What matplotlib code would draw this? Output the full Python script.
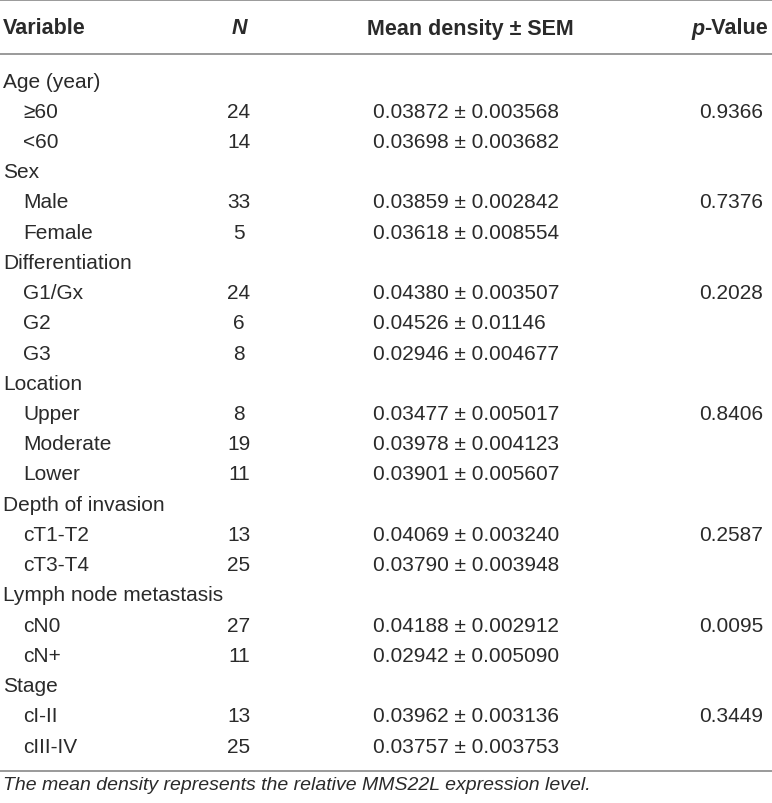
import matplotlib
matplotlib.use("Agg")
import matplotlib.pyplot as plt

# Table content
headers = ["Variable", "N", "Mean density ± SEM", "p", "-Value"]
groups = ["Age (year)", "Sex", "Differentiation", "Location",
          "Depth of invasion", "Lymph node metastasis", "Stage"]
levels = [["≥60", "<60"],
          ["Male", "Female"],
          ["G1/Gx", "G2", "G3"],
          ["Upper", "Moderate", "Lower"],
          ["cT1-T2", "cT3-T4"],
          ["cN0", "cN+"],
          ["cI-II", "cIII-IV"]]
counts = [[24, 14], [33, 5], [24, 6, 8], [8, 19, 11], [13, 25], [27, 11], [13, 25]]
means = [["0.03872", "0.03698"], ["0.03859", "0.03618"],
         ["0.04380", "0.04526", "0.02946"], ["0.03477", "0.03978", "0.03901"],
         ["0.04069", "0.03790"], ["0.04188", "0.02942"], ["0.03962", "0.03757"]]
sems = [["0.003568", "0.003682"], ["0.002842", "0.008554"],
        ["0.003507", "0.01146", "0.004677"], ["0.005017", "0.004123", "0.005607"],
        ["0.003240", "0.003948"], ["0.002912", "0.005090"], ["0.003136", "0.003753"]]
pvalues = ["0.9366", "0.7376", "0.2028", "0.8406", "0.2587", "0.0095", "0.3449"]
footnote = "The mean density represents the relative MMS22L expression level."

W, H = 772, 804
plt.rcParams["font.family"] = ["Liberation Sans", "DejaVu Sans"]
fig = plt.figure(figsize=(W / 100, H / 100), dpi=100)
ax = fig.add_axes([0, 0, 1, 1])
ax.set_xlim(0, W)
ax.set_ylim(H, 0)
ax.axis("off")

fs = 15
fs_head = 15.5
col = "#2a2a2a"
line_col = "#9a9a9a"

# column positions
x_var, x_sub, x_n, x_mean, x_p = 3, 23, 239, 373, 763

# rules
for y in (1, 55, 772):
    ax.plot([0, W], [y, y], color=line_col, lw=1.4, solid_capstyle="butt")

# header
yh = 29
ax.text(x_var, yh, headers[0], fontsize=fs_head, fontweight="bold", color=col, va="center")
ax.text(x_n, yh, headers[1], fontsize=fs_head, fontweight="bold", fontstyle="italic",
        color=col, va="center", ha="center")
ax.text(470, yh, headers[2], fontsize=fs_head, fontweight="bold", color=col,
        va="center", ha="center")
tv = ax.text(x_p + 5, yh, headers[4], fontsize=fs_head, fontweight="bold",
             color=col, va="center", ha="right")
fig.canvas.draw()
bb = tv.get_window_extent().transformed(ax.transData.inverted())
ax.text(min(bb.x0, bb.x1), yh, headers[3], fontsize=fs_head, fontweight="bold",
        fontstyle="italic", color=col, va="center", ha="right")

# body rows
y0, dy = 82, 30.23
row = 0
for g, name in enumerate(groups):
    y = y0 + row * dy
    ax.text(x_var, y, name, fontsize=fs, color=col, va="center")
    row += 1
    for i, lev in enumerate(levels[g]):
        y = y0 + row * dy
        ax.text(x_sub, y, lev, fontsize=fs, color=col, va="center")
        ax.text(x_n, y, str(counts[g][i]), fontsize=fs, color=col,
                va="center", ha="center")
        ax.text(x_mean, y, means[g][i] + " ± " + sems[g][i], fontsize=fs,
                color=col, va="center")
        if i == 0:
            ax.text(x_p, y, pvalues[g], fontsize=fs, color=col,
                    va="center", ha="right")
        row += 1

ax.text(x_var, 786, footnote, fontsize=14, fontstyle="italic", color=col, va="center")

fig.savefig("out.png", dpi=100)
